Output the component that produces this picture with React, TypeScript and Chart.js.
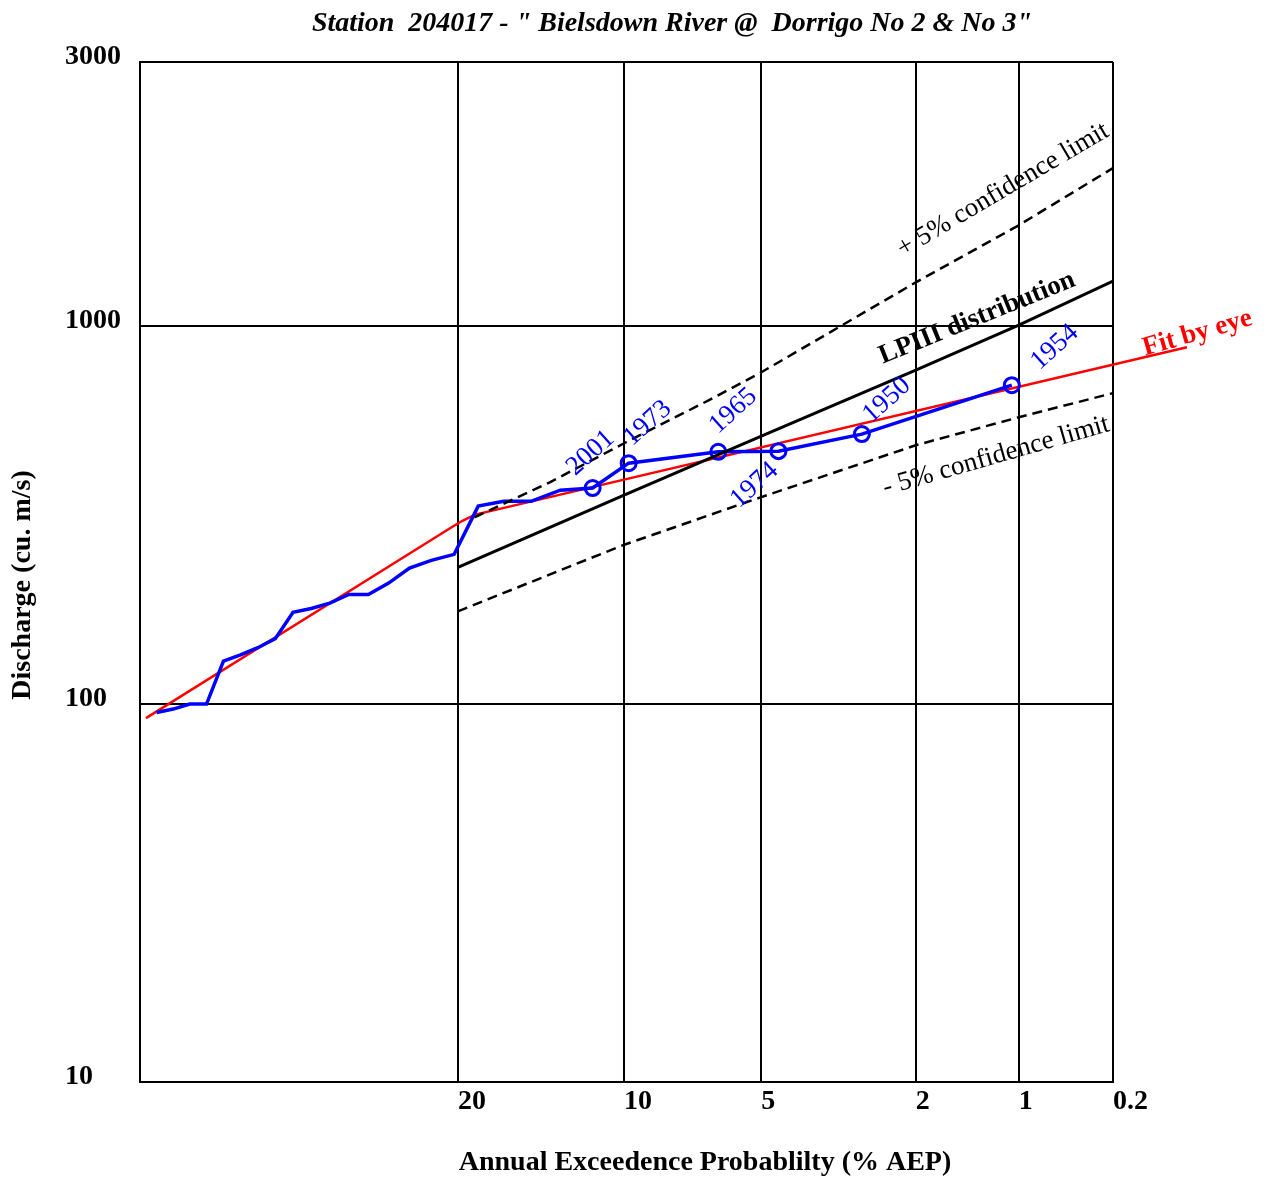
import React, { useEffect, useRef } from 'react';
import { Chart, registerables } from 'chart.js';

Chart.register(...registerables);

// ---------- data (AEP in %, discharge in cu. m/s) ----------
const observedAEP = [1.05, 2.8, 4.55, 6.29, 9.79, 11.54, 13.29, 15.03, 16.78, 18.53, 20.28, 22.03, 23.78, 25.52,
  27.27, 29.02, 30.77, 32.52, 34.27, 36.01, 37.76, 39.51, 41.26, 43.01, 44.76, 46.5, 48.25];
const observedQ = [698, 518, 467, 465, 434, 373, 368, 344, 344, 334, 249, 240, 229, 209,
  195, 195, 185, 179, 175, 149, 141, 135, 130, 100, 100, 97, 95];
const observedYear = ['1954', '1950', '1974', '1965', '1973', '2001', '', '', '', '', '', '', '', '',
  '', '', '', '', '', '', '', '', '', '', '', '', ''];

const fitAEP = [49.37, 20.59, 19.7, 18.76, 17.7, 0.279];
const fitQ = [91.8, 292, 305, 317, 324, 879];

const lp3AEP = [20, 10, 5, 2, 1, 0.5];
const lp3Q = [230, 357, 512, 765, 1006, 1315];

const upperAEP = [18.8, 13.9, 10, 6.6, 5, 2, 1, 0.5];
const upperQ = [312, 386, 490, 637, 755, 1306, 1849, 2620];

const lowerAEP = [20, 10, 5, 2, 1, 0.5];
const lowerQ = [176, 264, 353, 484, 574, 665];

const xTickAEP = [20, 10, 5, 2, 1, 0.5];
const xTickLabels = ['20', '10', '5', '2', '1', '0.2'];
const yTickValues = [10, 100, 1000, 5000];
const yTickLabels = ['10', '100', '1000', '3000'];

const X_LEFT_AEP = 50;
const X_RIGHT_AEP = 0.5;
const Y_MIN = 10;
const Y_MAX = 5000;

const TITLE = 'Station  204017 - " Bielsdown River @  Dorrigo No 2 & No 3"';
const X_TITLE = 'Annual Exceedence Probablilty (% AEP)';
const Y_TITLE = 'Discharge (cu. m/s)';

// annotation texts anchored in data coordinates (AEP %, Q)
const notes = [
  { text: '+ 5% confidence limit', aep: 1.116, q: 2291, angle: -30.5, font: '27px "Liberation Serif"', color: '#000' },
  { text: 'LPIII distribution', aep: 1.334, q: 1050, angle: -22, font: 'bold 27px "Liberation Serif"', color: '#000' },
  { text: '- 5% confidence limit', aep: 1.172, q: 453, angle: -16, font: '27px "Liberation Serif"', color: '#000' },
  { text: 'Fit by eye', aep: 0.256, q: 957, angle: -16, font: 'bold 27px "Liberation Serif"', color: '#ff0000' },
];
const yearOffsets: Record<string, [number, number]> = {
  '2001': [-2, -35], '1973': [19, -40], '1965': [15, -41], '1974': [-24, 34], '1950': [25, -34], '1954': [43, -38],
};

// ---------- helpers ----------
function normInv(p: number): number {
  const a = [-3.969683028665376e+01, 2.209460984245205e+02, -2.759285104469687e+02, 1.383577518672690e+02, -3.066479806614716e+01, 2.506628277459239e+00];
  const b = [-5.447609879822406e+01, 1.615858368580409e+02, -1.556989798598866e+02, 6.680131188771972e+01, -1.328068155288572e+01];
  const c = [-7.784894002430293e-03, -3.223964580411365e-01, -2.400758277161838e+00, -2.549732539343734e+00, 4.374664141464968e+00, 2.938163982698783e+00];
  const d = [7.784695709041462e-03, 3.224671290700398e-01, 2.445134137142996e+00, 3.754408661907416e+00];
  const plow = 0.02425;
  const phigh = 1 - plow;
  if (p < plow) {
    const q = Math.sqrt(-2 * Math.log(p));
    return (((((c[0] * q + c[1]) * q + c[2]) * q + c[3]) * q + c[4]) * q + c[5]) /
      ((((d[0] * q + d[1]) * q + d[2]) * q + d[3]) * q + 1);
  }
  if (p <= phigh) {
    const q = p - 0.5;
    const r = q * q;
    return (((((a[0] * r + a[1]) * r + a[2]) * r + a[3]) * r + a[4]) * r + a[5]) * q /
      (((((b[0] * r + b[1]) * r + b[2]) * r + b[3]) * r + b[4]) * r + 1);
  }
  const q = Math.sqrt(-2 * Math.log(1 - p));
  return -(((((c[0] * q + c[1]) * q + c[2]) * q + c[3]) * q + c[4]) * q + c[5]) /
    ((((d[0] * q + d[1]) * q + d[2]) * q + d[3]) * q + 1);
}
const zOf = (aep: number) => (aep === 50 ? 0 : normInv(1 - aep / 100));
const pts = (aeps: number[], qs: number[]) => aeps.map((a, i) => ({ x: zOf(a), y: qs[i] }));

const FONT_BOLD = 'bold 28px "Liberation Serif"';

const textPlugin = {
  id: 'texts',
  afterDraw(chart: any) {
    const ctx = chart.ctx as CanvasRenderingContext2D;
    const xs = chart.scales.x;
    const ys = chart.scales.y;
    const area = chart.chartArea;
    ctx.save();
    ctx.fillStyle = '#000';
    ctx.textBaseline = 'middle';

    // title
    ctx.font = 'italic bold 28px "Liberation Serif"';
    ctx.textAlign = 'center';
    ctx.fillText(TITLE, 672, 24);

    // y tick labels
    ctx.font = FONT_BOLD;
    ctx.textAlign = 'left';
    yTickValues.forEach((v, i) => {
      ctx.fillText(yTickLabels[i], 65, ys.getPixelForValue(v) - 5);
    });

    // x tick labels
    xTickAEP.forEach((a, i) => {
      ctx.fillText(xTickLabels[i], xs.getPixelForValue(zOf(a)), area.bottom + 20);
    });

    // axis titles
    ctx.textAlign = 'center';
    ctx.fillText(X_TITLE, 705, 1163);
    ctx.save();
    ctx.translate(23, 585);
    ctx.rotate(-Math.PI / 2);
    ctx.fillText(Y_TITLE, 0, 0);
    ctx.restore();

    // annotations
    notes.forEach((n) => {
      ctx.save();
      ctx.translate(xs.getPixelForValue(zOf(n.aep)), ys.getPixelForValue(n.q));
      ctx.rotate((n.angle * Math.PI) / 180);
      ctx.font = n.font;
      ctx.fillStyle = n.color;
      ctx.textAlign = 'center';
      ctx.fillText(n.text, 0, 0);
      ctx.restore();
    });

    // year labels
    ctx.font = '27px "Liberation Serif"';
    ctx.fillStyle = '#0000ff';
    ctx.textAlign = 'center';
    observedYear.forEach((yr, i) => {
      if (!yr) return;
      const off = yearOffsets[yr] || [0, -30];
      const px = xs.getPixelForValue(zOf(observedAEP[i])) + off[0];
      const py = ys.getPixelForValue(observedQ[i]) + off[1];
      ctx.save();
      ctx.translate(px, py);
      ctx.rotate((-42 * Math.PI) / 180);
      ctx.fillText(yr, 0, 0);
      ctx.restore();
    });

    ctx.restore();
  },
};

export default function App() {
  const ref = useRef<HTMLCanvasElement | null>(null);

  useEffect(() => {
    if (!ref.current) return;
    const chart = new Chart(ref.current, {
      type: 'scatter',
      data: {
        datasets: [
          {
            label: 'LPIII distribution',
            data: pts(lp3AEP, lp3Q),
            showLine: true,
            borderColor: '#000',
            borderWidth: 3,
            pointRadius: 0,
          },
          {
            label: '+ 5% confidence limit',
            data: pts(upperAEP, upperQ),
            showLine: true,
            borderColor: '#000',
            borderWidth: 2.5,
            borderDash: [10, 6],
            pointRadius: 0,
          },
          {
            label: '- 5% confidence limit',
            data: pts(lowerAEP, lowerQ),
            showLine: true,
            borderColor: '#000',
            borderWidth: 2.5,
            borderDash: [10, 6],
            pointRadius: 0,
          },
          {
            label: 'Observed',
            data: pts(observedAEP, observedQ),
            showLine: true,
            borderColor: '#0000ff',
            borderWidth: 3.5,
            pointRadius: (c: any) => (observedYear[c.dataIndex] ? 7.5 : 0),
            pointBorderColor: '#0000ff',
            pointBackgroundColor: 'rgba(0,0,0,0)',
            pointBorderWidth: 3,
          },
          {
            label: 'Fit by eye',
            data: pts(fitAEP, fitQ),
            showLine: true,
            borderColor: '#ff0000',
            borderWidth: 2.5,
            pointRadius: 0,
            clip: false as any,
          },
        ],
      },
      options: {
        responsive: false,
        animation: false,
        layout: { padding: { left: 140, right: 163, top: 62, bottom: 96 } },
        plugins: {
          legend: { display: false },
          tooltip: { enabled: false },
        },
        scales: {
          x: {
            type: 'linear',
            min: zOf(X_LEFT_AEP),
            max: zOf(X_RIGHT_AEP),
            ticks: { display: false },
            grid: { color: '#000', lineWidth: 2, drawTicks: false },
            border: { display: true, color: '#000', width: 2 },
            afterBuildTicks: (s: any) => {
              s.ticks = [zOf(X_LEFT_AEP), ...xTickAEP.map(zOf)].map((v) => ({ value: v }));
            },
          },
          y: {
            type: 'logarithmic',
            min: Y_MIN,
            max: Y_MAX,
            ticks: { display: false },
            grid: { color: '#000', lineWidth: 2, drawTicks: false },
            border: { display: true, color: '#000', width: 2 },
            afterBuildTicks: (s: any) => {
              s.ticks = yTickValues.map((v) => ({ value: v }));
            },
          },
        },
      } as any,
      plugins: [textPlugin],
    });
    return () => chart.destroy();
  }, []);

  return (
    <div style={{ position: 'absolute', left: 0, top: 0, width: 1276, height: 1178, background: '#fff' }}>
      <canvas ref={ref} width={1276} height={1178} style={{ display: 'block', width: 1276, height: 1178 }} />
    </div>
  );
}
